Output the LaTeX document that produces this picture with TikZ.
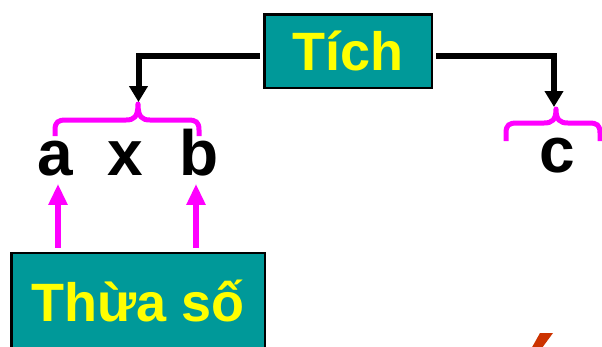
\documentclass[tikz,border=0pt]{standalone}
\usepackage{fontspec}
\setmainfont{Liberation Sans}
\usetikzlibrary{arrows.meta}
\definecolor{teal1}{HTML}{009999}
\definecolor{mag}{HTML}{FF00FF}
\definecolor{yel}{HTML}{FFFF00}
\definecolor{redacc}{HTML}{CC3300}
\begin{document}
\begin{tikzpicture}[x=1pt,y=-1pt,
  box/.style={draw=black,line width=2.5pt,fill=teal1,text=yel,
    font=\bfseries\fontsize{54}{60}\selectfont,inner sep=0pt,
    text height=38.7pt,text depth=0pt},
  letter/.style={font=\bfseries\fontsize{64}{70}\selectfont,inner sep=0pt,anchor=base},
  conn/.style={line width=6pt,-{Triangle[width=18pt,length=16pt]}},
  uparrow/.style={draw=mag,line width=6pt,-{Triangle[width=18pt,length=21pt]}},
  brace/.style={draw=mag,line width=5pt,line join=round}]
\useasboundingbox (0,0) rectangle (602,346);
\node[box,minimum width=167.5pt,minimum height=73.5pt] (tich) at (348,51) {Tích};
\node[box,minimum width=253.5pt,minimum height=99pt] (thuaso) at (138,302.5) {Thừa số};
\node[letter] (a) at (55,175) {a};
\node[letter] (x) at (125,175) {x};
\node[letter] (b) at (199.5,175) {b};
\node[letter] (c) at (557,172) {c};
\coordinate (abtip) at (138.5,102);
\coordinate (ctip) at (554,107);
% braces
\draw[brace] (55,136) -- (55,130) .. controls (55,122) and (58,120) .. (66,120)
  -- (126,120) .. controls (134,120) and (138,117) .. (138,104)
  .. controls (138,117) and (142,120) .. (150,120) -- (188,120)
  .. controls (196,120) and (199,122) .. (199,130) -- (199,136);
\draw[brace] (506,141) -- (506,133) .. controls (506,125) and (509,123) .. (517,123)
  -- (544,123) .. controls (552,123) and (556,120) .. (556,109)
  .. controls (556,120) and (560,123) .. (568,123) -- (589,123)
  .. controls (597,123) and (600,125) .. (600,133) -- (600,141);
% connectors
\draw[conn] ([xshift=-3pt,yshift=-5pt]tich.west) -| (abtip);
\draw[conn] ([xshift=3pt,yshift=-5pt]tich.east) -| (ctip);
\draw[uparrow] ([xshift=-80pt,yshift=4pt]thuaso.north) -- ([xshift=3pt,yshift=-8pt]a.south);
\draw[uparrow] ([xshift=58pt,yshift=4pt]thuaso.north) -- ([xshift=-3.5pt,yshift=-8pt]b.south);
% fragment
\fill[redacc] (540,333) -- (553,333) -- (540.5,350) -- (530.5,350) -- cycle;
\end{tikzpicture}
\end{document}
